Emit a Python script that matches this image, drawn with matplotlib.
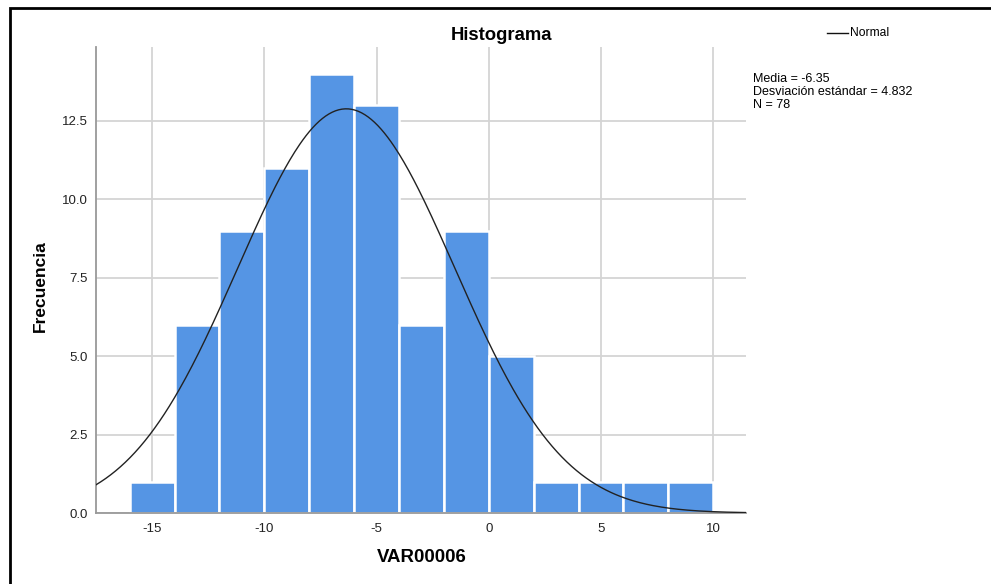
import numpy as np
import matplotlib
matplotlib.use("Agg")
import matplotlib.pyplot as plt
from matplotlib.patches import Rectangle
from matplotlib.lines import Line2D

plt.rcParams['font.family'] = ['Liberation Sans', 'DejaVu Sans']

# histogram data (bin edges every 2 units)
bin_left = [-16, -14, -12, -10, -8, -6, -4, -2, 0, 2, 4, 6, 8]
counts = [1, 6, 9, 11, 14, 13, 6, 9, 5, 1, 1, 1, 1]
bin_width = 2
mean = -6.35
std = 4.832
n = 78

x_ticks = [-15, -10, -5, 0, 5, 10]
y_ticks = [0.0, 2.5, 5.0, 7.5, 10.0, 12.5]

fig = plt.figure(figsize=(9.91, 5.84), dpi=100)
ax = fig.add_axes([96 / 991, 1 - 513 / 584, 650 / 991, 466 / 584])

ax.bar(bin_left, counts, width=bin_width, align='edge', color='#5595E4',
       edgecolor='white', linewidth=1.8, zorder=2)

xs = np.linspace(-17.5, 11.46, 400)
pdf = np.exp(-0.5 * ((xs - mean) / std) ** 2) / (std * np.sqrt(2 * np.pi))
ax.plot(xs, n * bin_width * pdf, color='#222222', linewidth=1.0, zorder=3)

ax.set_xlim(-17.5, 11.46)
ax.set_ylim(0, 14.85)
ax.set_xticks(x_ticks)
ax.set_xticklabels([str(t) for t in x_ticks])
ax.set_yticks(y_ticks)
ax.set_yticklabels([f"{t:.1f}" for t in y_ticks])
ax.tick_params(axis='x', length=0, labelsize=9.5, colors='#222222', pad=7)
ax.tick_params(axis='y', length=0, labelsize=9.5, colors='#222222', pad=6)
ax.grid(True, color='#d4d4d4', linewidth=1.3, zorder=0)
ax.set_axisbelow(True)
for side in ['top', 'right']:
    ax.spines[side].set_visible(False)
for side in ['left', 'bottom']:
    ax.spines[side].set_color('#999999')
    ax.spines[side].set_linewidth(1.3)

# axis titles placed like SPSS output
fig.text(422 / 991, 1 - 558 / 584, 'VAR00006', fontsize=13.4, fontweight='bold',
         ha='center', va='center')
fig.text(40 / 991, 1 - 286 / 584, 'Frecuencia', fontsize=12.5, fontweight='bold',
         ha='center', va='center', rotation=90)

fig.text(501 / 991, 1 - 35 / 584, 'Histograma', fontsize=13.3, fontweight='bold',
         ha='center', va='center')

# legend line + label
fig.add_artist(Line2D([827 / 991, 848 / 991], [1 - 33 / 584, 1 - 33 / 584],
                      color='#111111', linewidth=1.0))
fig.text(850 / 991, 1 - 33 / 584, 'Normal', fontsize=8.7, va='center')

fig.text(753 / 991, 1 - 73 / 584,
         f'Media = {mean}\nDesviación estándar = {std}\nN = {n}',
         fontsize=9, va='top', linespacing=1.1)

# outer frame
fig.add_artist(Rectangle((10 / 991, -0.05), 1.1, 1 - 8 / 584 + 0.05,
                         transform=fig.transFigure, fill=False,
                         edgecolor='black', linewidth=2))

fig.savefig('out.png', dpi=100)
